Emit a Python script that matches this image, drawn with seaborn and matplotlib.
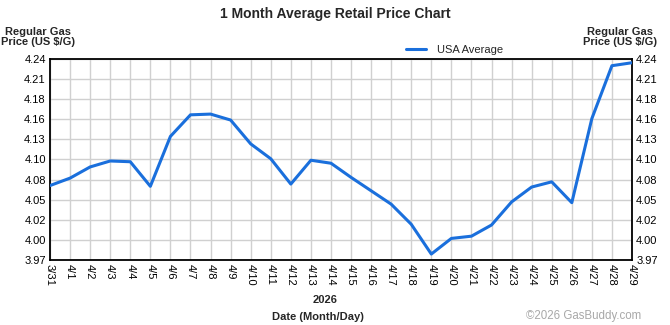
import matplotlib
matplotlib.use("Agg")
import matplotlib.pyplot as plt
import numpy as np
import pandas as pd
import seaborn as sns

# Daily national average regular gas price
dates = ["3/31", "4/1", "4/2", "4/3", "4/4", "4/5", "4/6", "4/7", "4/8", "4/9",
         "4/10", "4/11", "4/12", "4/13", "4/14", "4/15", "4/16", "4/17", "4/18", "4/19",
         "4/20", "4/21", "4/22", "4/23", "4/24", "4/25", "4/26", "4/27", "4/28", "4/29"]
usa_average = [4.070, 4.080, 4.095, 4.103, 4.102, 4.069, 4.136, 4.165, 4.166, 4.158,
               4.126, 4.106, 4.072, 4.104, 4.100, 4.081, 4.063, 4.045, 4.018, 3.978,
               3.999, 4.002, 4.017, 4.048, 4.068, 4.075, 4.047, 4.160, 4.231, 4.235]
y_tick_labels = ["3.97", "4.00", "4.02", "4.05", "4.08", "4.10",
                 "4.13", "4.16", "4.18", "4.21", "4.24"]
y_min, y_max = 3.97, 4.24

df = pd.DataFrame({"day": np.arange(len(dates)), "price": usa_average})

sns.set_style("white")
plt.rcParams["font.family"] = ["Liberation Sans", "DejaVu Sans"]

fig = plt.figure(figsize=(6.7, 3.25), dpi=100)
ax = fig.add_axes([50 / 670, 65 / 325, 582 / 670, 201 / 325])

sns.lineplot(data=df, x="day", y="price", ax=ax, color="#1a6fdc",
             linewidth=2.2, label="USA Average", legend=False, zorder=3)

ax.set_xlim(0, len(dates) - 1)
ax.set_ylim(y_min, y_max)
ax.set_xticks(np.arange(len(dates)))
ax.set_xticklabels(dates, rotation=-90, fontsize=8)
ax.set_yticks(np.linspace(y_min, y_max, len(y_tick_labels)))
ax.set_yticklabels(y_tick_labels, fontsize=8)
ax.tick_params(axis="both", length=0, pad=3, colors="black")
ax.tick_params(axis="y", labelright=True, right=False)
ax.grid(True, color="#d0d0d0", linewidth=1)
for s in ax.spines.values():
    s.set_color("black")
    s.set_linewidth(1.3)
ax.set_xlabel("")
ax.set_ylabel("")

fig.text(335 / 670, 1 - 14 / 325, "1 Month Average Retail Price Chart",
         ha="center", va="center", fontsize=10, fontweight="bold")
fig.text(38 / 670, 1 - 37 / 325, "Regular Gas\nPrice (US $/G)", ha="center",
         va="center", fontsize=8, fontweight="bold", linespacing=1.1)
fig.text(620 / 670, 1 - 37 / 325, "Regular Gas\nPrice (US $/G)", ha="center",
         va="center", fontsize=8, fontweight="bold", linespacing=1.1)
fig.text(325 / 670, 1 - 300 / 325, "2026", ha="center", va="center",
         fontsize=8, fontweight="bold")
fig.text(318 / 670, 1 - 317 / 325, "Date (Month/Day)", ha="center", va="center",
         fontsize=8, fontweight="bold")
fig.text(641 / 670, 1 - 316 / 325, "\u00a92026 GasBuddy.com", ha="right",
         va="center", fontsize=8.3, color="#a8a8a8")

handles, labels = ax.get_legend_handles_labels()
fig.legend(handles, labels, loc="center left", bbox_to_anchor=(406 / 670, 1 - 50 / 325),
           frameon=False, fontsize=8, handlelength=1.8, handletextpad=1.0,
           borderpad=0, borderaxespad=0)

fig.savefig("out.png", dpi=100, facecolor="white")
